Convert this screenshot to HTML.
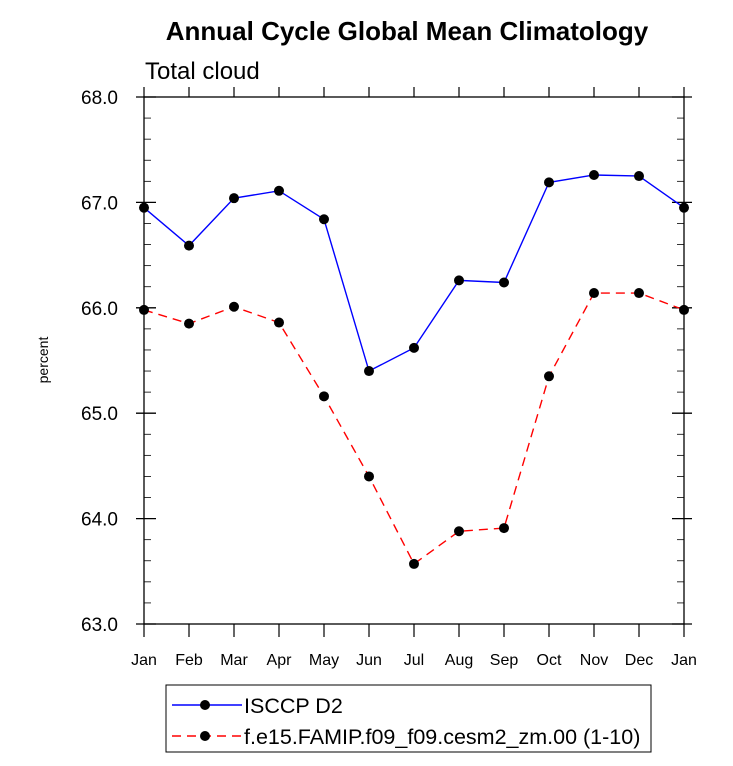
<!DOCTYPE html>
<html><head><meta charset="utf-8"><style>
body{margin:0;background:#fff;}
svg text{font-family:"Liberation Sans",sans-serif;}
</style></head><body>
<svg id="c" width="733" height="761" xmlns="http://www.w3.org/2000/svg">
<text x="407" y="40" text-anchor="middle" font-size="26" font-weight="bold">Annual Cycle Global Mean Climatology</text>
<text x="145" y="79" font-size="24">Total cloud</text>
<text x="48" y="360" font-size="14" transform="rotate(-90 48 360)" text-anchor="middle">percent</text>
<g id="axes"></g>
<g id="series"></g>
<rect x="166" y="685" width="485" height="67" fill="none" stroke="#000" stroke-width="1"/>
<g id="legend"></g>
</svg>
<script>
const months=["Jan","Feb","Mar","Apr","May","Jun","Jul","Aug","Sep","Oct","Nov","Dec","Jan"];
const yTicks=["63.0","64.0","65.0","66.0","67.0","68.0"];
const isccp=[66.95,66.59,67.04,67.11,66.84,65.40,65.62,66.26,66.24,67.19,67.26,67.25,66.95];
const cesm=[65.98,65.85,66.01,65.86,65.16,64.40,63.57,63.88,63.91,65.35,66.14,66.14,65.98];
const seriesNames=["ISCCP D2","f.e15.FAMIP.f09_f09.cesm2_zm.00 (1-10)"];
const NS="http://www.w3.org/2000/svg";
const X0=144,X1=684,Y0=624,Y1=97,VMIN=63,VMAX=68;
const xs=i=>X0+(X1-X0)*i/(months.length-1);
const ys=v=>Y0-(v-VMIN)/(VMAX-VMIN)*(Y0-Y1);
function mk(t,a,p){const e=document.createElementNS(NS,t);for(const k in a)e.setAttribute(k,a[k]);p.appendChild(e);return e;}
const ax=document.getElementById('axes');
const fr=mk('rect',{x:X0,y:Y1,width:X1-X0,height:Y0-Y1,fill:'none',stroke:'#000','stroke-width':1.3},ax);


for(let v=VMIN;v<=VMAX+1e-6;v+=0.2){
  const y=ys(v);const maj=Math.abs(v-Math.round(v))<1e-6;
  const l1=mk('line',{x1:maj?X0-8:X0,x2:X0+(maj?12:7),y1:y,y2:y,stroke:'#000','stroke-width':maj?1.3:0.8},ax);
  
  
  const l2=mk('line',{x1:X1-(maj?12:7),x2:maj?X1+8:X1,y1:y,y2:y,stroke:'#000','stroke-width':maj?1.3:0.8},ax);
  
  
}
yTicks.forEach(s=>{const t=mk('text',{x:X0-26,y:ys(parseFloat(s))+7,'text-anchor':'end','font-size':19},ax);t.textContent=s;
  
  });
months.forEach((m,i)=>{const x=xs(i);
  const a=mk('line',{x1:x,x2:x,y1:Y0,y2:Y0+13,stroke:'#000','stroke-width':1.2},ax);
  
  
  const b=mk('line',{x1:x,x2:x,y1:Y1,y2:Y1-10,stroke:'#000','stroke-width':1.2},ax);
  
  
  const t=mk('text',{x:x,y:665,'text-anchor':'middle','font-size':16},ax);t.textContent=m;
  
  });
const sg=document.getElementById('series');
function draw(vals,color,dash,name){
  const pl=mk('polyline',{points:vals.map((v,i)=>xs(i)+','+ys(v)).join(' '),fill:'none',stroke:color,'stroke-width':1.4,'stroke-dasharray':dash},sg);
  
  
  vals.forEach((v,i)=>{const c=mk('circle',{cx:xs(i),cy:ys(v),r:5,fill:'#000'},sg);
    
    });
}
draw(isccp,'#0000ff','none','isccp');
draw(cesm,'#ff0000','9,6','cesm');
const lg=document.getElementById('legend');
[[0,'#0000ff','none',705],[1,'#ff0000','9,6',736]].forEach(([i,c,d,y])=>{
  const l=mk('line',{x1:172,x2:242,y1:y,y2:y,stroke:c,'stroke-width':1.4,'stroke-dasharray':d},lg);
  
  
  const cc=mk('circle',{cx:205,cy:y,r:5,fill:'#000'},lg);
  
  
  const t=mk('text',{x:244,y:y+8,'font-size':21.5},lg);t.textContent=seriesNames[i];
  
  
});
</script>
</body></html>
